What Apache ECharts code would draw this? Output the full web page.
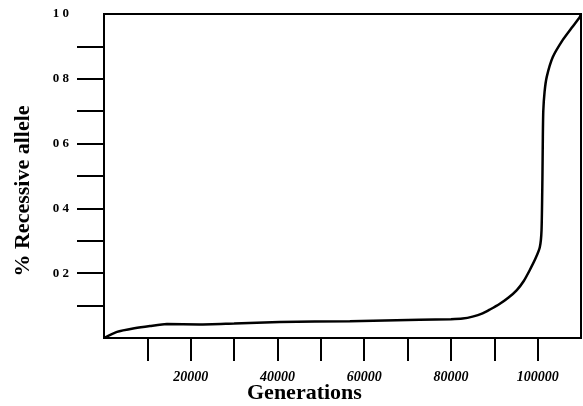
<!DOCTYPE html>
<html>
<head>
<meta charset="utf-8">
<script src="https://cdn.jsdelivr.net/npm/echarts@6/dist/echarts.min.js"></script>
<style>html,body{margin:0;padding:0;background:#fff}#c{width:583px;height:406px}</style>
</head>
<body>
<div id="c"></div>
<script>
var generations = [0, 3000, 7000, 10600, 14500, 22000, 30000, 40500, 56700, 72800, 80000, 82700, 85000, 87300, 89000, 91200, 93300, 95200, 96800, 98200, 99500, 100500, 100900, 101100, 101200, 101300, 101600, 102100, 103500, 105800, 108000, 109700, 110000];
var recessive   = [0, 0.019, 0.030, 0.037, 0.043, 0.042, 0.045, 0.049, 0.052, 0.056, 0.058, 0.060, 0.066, 0.076, 0.088, 0.105, 0.125, 0.148, 0.176, 0.21, 0.245, 0.28, 0.333, 0.49, 0.62, 0.70, 0.76, 0.806, 0.867, 0.92, 0.96, 0.99, 1.0];
var xTickValues = [10000, 20000, 30000, 40000, 50000, 60000, 70000, 80000, 90000, 100000];
var xLabelValues = [20000, 40000, 60000, 80000, 100000];
var yTickValues = [0.1, 0.2, 0.3, 0.4, 0.5, 0.6, 0.7, 0.8, 0.9];
var yLabelValues = [0.2, 0.4, 0.6, 0.8, 1.0];
var yLabelTexts = ['0 2', '0 4', '0 6', '0 8', '1 0'];

var pts = generations.map(function (g, i) { return [g, recessive[i]]; });
var chart = echarts.init(document.getElementById('c'));
chart.setOption({
  animation: false,
  backgroundColor: '#fff',
  grid: { left: 104, top: 14, right: 2, bottom: 68, show: true, borderColor: '#000', borderWidth: 2 },
  xAxis: {
    type: 'value', min: 0, max: 110000, interval: 10000,
    splitLine: { show: false },
    axisLine: { lineStyle: { color: '#000', width: 2 } },
    axisTick: { length: 23, customValues: xTickValues, lineStyle: { color: '#000', width: 2 } },
    axisLabel: {
      margin: 32, color: '#000', fontFamily: 'Liberation Serif', fontStyle: 'italic', fontWeight: 'bold', fontSize: 14,
      customValues: xLabelValues,
      formatter: function (v) { return String(v); }
    }
  },
  yAxis: {
    type: 'value', min: 0, max: 1, interval: 0.1,
    splitLine: { show: false },
    axisLine: { lineStyle: { color: '#000', width: 2 } },
    axisTick: { length: 27, customValues: yTickValues, lineStyle: { color: '#000', width: 2 } },
    axisLabel: {
      margin: 35, color: '#000', fontFamily: 'Liberation Serif', fontWeight: 'bold', fontSize: 13,
      customValues: yLabelValues,
      formatter: function (v) {
        for (var i = 0; i < yLabelValues.length; i++) { if (Math.abs(yLabelValues[i] - v) < 1e-6) return yLabelTexts[i]; }
        return '';
      }
    }
  },
  graphic: [
    { type: 'text', left: 247, top: 382, style: { text: 'Generations', fill: '#000', font: 'bold 22px "Liberation Serif"' } },
    { type: 'text', x: 23, y: 191, rotation: Math.PI / 2,
      style: { text: '% Recessive allele', fill: '#000', font: 'bold 22px "Liberation Serif"', textAlign: 'center', textVerticalAlign: 'middle' } }
  ],
  series: [{
    type: 'line', data: pts, showSymbol: false, smooth: 0.2,
    lineStyle: { color: '#000', width: 2.5 }
  }]
});
</script>
</body>
</html>
